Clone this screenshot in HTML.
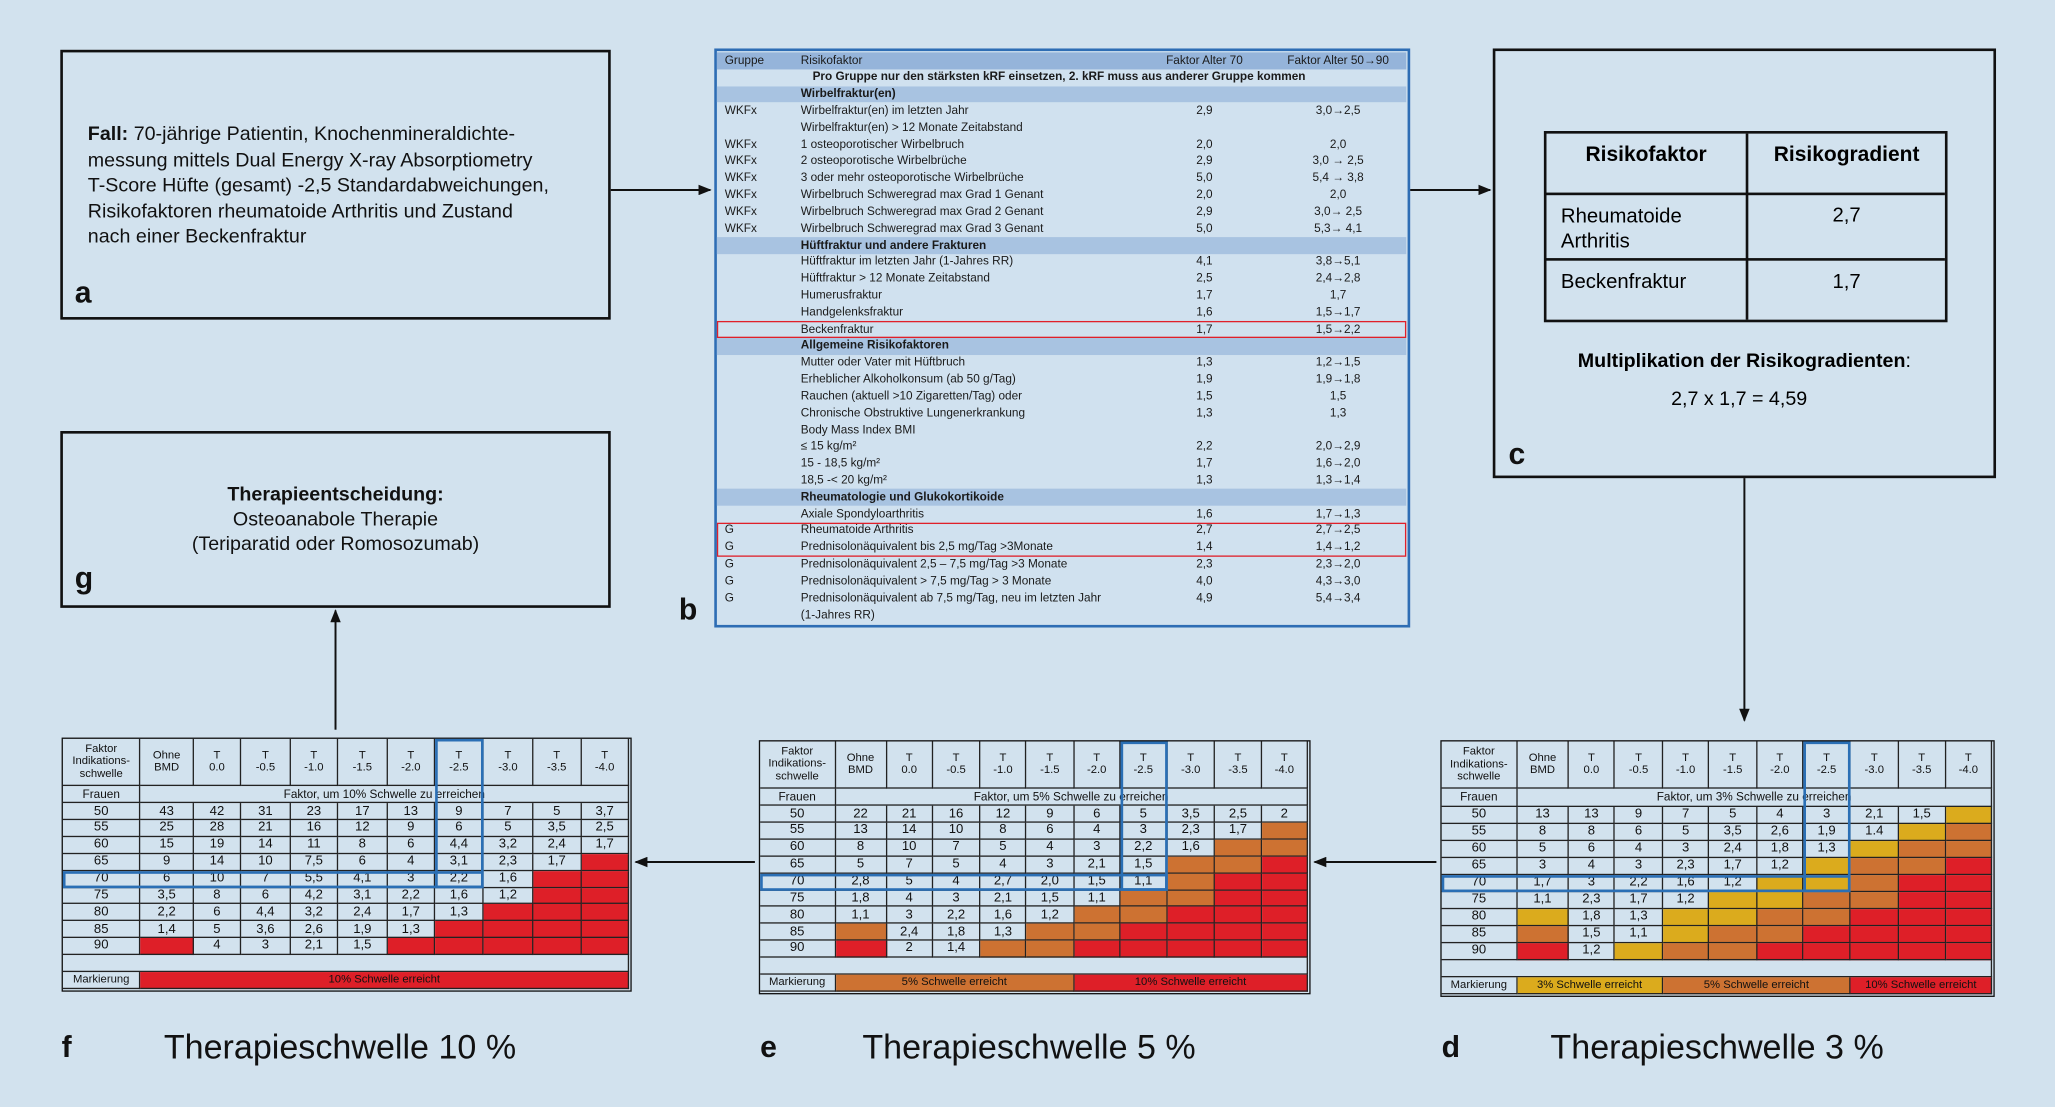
<!DOCTYPE html>
<html><head><meta charset="utf-8">
<style>
html,body{margin:0;padding:0;}
body{width:2055px;height:1107px;overflow:hidden;background:#d2e2ee;font-family:"Liberation Sans",Arial,sans-serif;}
#wrap{position:absolute;left:0;top:0;width:1568px;height:845px;transform:scale(1.31059,1.31006);transform-origin:0 0;}
.box{position:absolute;border:2px solid #111;box-sizing:border-box;}
.abs{position:absolute;}
.lbl{position:absolute;font-weight:bold;font-size:23px;color:#111;}
.cell{position:absolute;box-sizing:border-box;border-right:0.8px solid #222;border-bottom:0.8px solid #222;display:flex;align-items:center;justify-content:center;text-align:center;color:#111;line-height:1.12;}
.btxt{position:absolute;font-size:9px;white-space:nowrap;color:#1a1a1a;}
.cap{position:absolute;font-size:26px;color:#111;}
</style></head><body>
<div id="wrap">

<div class="box" style="left:46px;top:38px;width:420px;height:206px;">
  <div class="abs" style="left:19px;top:53px;font-size:15px;line-height:19.5px;color:#111;"><b>Fall:</b> 70-jährige Patientin, Knochenmineraldichte-<br>messung mittels Dual Energy X-ray Absorptiometry<br>T-Score Hüfte (gesamt) -2,5 Standardabweichungen,<br>Risikofaktoren rheumatoide Arthritis und Zustand<br>nach einer Beckenfraktur</div>
  <div class="lbl" style="left:9px;top:170px;">a</div>
</div>

<div class="box" style="left:46px;top:329px;width:420px;height:135px;">
  <div class="abs" style="left:0;width:416px;top:37px;text-align:center;font-size:15px;line-height:19px;color:#111;"><b>Therapieentscheidung:</b><br>Osteoanabole Therapie<br>(Teriparatid oder Romosozumab)</div>
  <div class="lbl" style="left:9px;top:97px;">g</div>
</div>

<div class="box" style="left:1139px;top:37px;width:384px;height:328px;">
  <div class="abs" style="left:37px;top:61px;width:308px;height:146px;border:2px solid #111;box-sizing:border-box;">
    <div class="abs" style="left:152px;top:0;width:2px;height:142px;background:#111;"></div>
    <div class="abs" style="left:0;top:45px;width:304px;height:2px;background:#111;"></div>
    <div class="abs" style="left:0;top:95px;width:304px;height:2px;background:#111;"></div>
    <div class="abs" style="left:0;width:152px;top:8px;text-align:center;font-weight:bold;font-size:16px;">Risikofaktor</div>
    <div class="abs" style="left:154px;width:150px;top:8px;text-align:center;font-weight:bold;font-size:16px;">Risikogradient</div>
    <div class="abs" style="left:11px;top:54px;font-size:15.5px;line-height:19px;">Rheumatoide<br>Arthritis</div>
    <div class="abs" style="left:154px;width:150px;top:54px;text-align:center;font-size:15.5px;">2,7</div>
    <div class="abs" style="left:11px;top:105px;font-size:15.5px;">Beckenfraktur</div>
    <div class="abs" style="left:154px;width:150px;top:105px;text-align:center;font-size:15.5px;">1,7</div>
  </div>
  <div class="abs" style="left:0;width:380px;top:228px;text-align:center;font-size:15px;"><b>Multiplikation der Risikogradienten</b>:</div>
  <div class="abs" style="left:0;width:372px;top:257px;text-align:center;font-size:15px;">2,7 x 1,7 = 4,59</div>
  <div class="lbl" style="left:10px;top:294px;">c</div>
</div>

<div id="tb" class="abs" style="left:545px;top:37px;width:531px;height:442px;border:2.5px solid #2e6db4;box-sizing:border-box;background:#d0e1ef;"></div>
<div class="lbl" style="left:518px;top:452px;">b</div>

<svg class="abs" style="left:0;top:0;" width="1568" height="845">
  <defs><marker id="ah" markerWidth="10" markerHeight="8" refX="9" refY="4" orient="auto" markerUnits="userSpaceOnUse"><path d="M0,0 L10,4 L0,8 z" fill="#111"/></marker></defs>
  <line x1="466" y1="145" x2="542" y2="145" stroke="#111" stroke-width="1.5" marker-end="url(#ah)"/>
  <line x1="1076" y1="145" x2="1137" y2="145" stroke="#111" stroke-width="1.5" marker-end="url(#ah)"/>
  <line x1="1331" y1="365" x2="1331" y2="550" stroke="#111" stroke-width="1.5" marker-end="url(#ah)"/>
  <line x1="1096" y1="658" x2="1003" y2="658" stroke="#111" stroke-width="1.5" marker-end="url(#ah)"/>
  <line x1="576" y1="658" x2="485" y2="658" stroke="#111" stroke-width="1.5" marker-end="url(#ah)"/>
  <line x1="256" y1="557" x2="256" y2="466" stroke="#111" stroke-width="1.5" marker-end="url(#ah)"/>
</svg>

<div id="tf"></div>
<div id="te"></div>
<div id="td"></div>

<div class="lbl" style="left:47px;top:786px;">f</div>
<div class="cap" style="left:125px;top:784px;">Therapieschwelle 10 %</div>
<div class="lbl" style="left:580px;top:786px;">e</div>
<div class="cap" style="left:658px;top:784px;">Therapieschwelle 5 %</div>
<div class="lbl" style="left:1100px;top:786px;">d</div>
<div class="cap" style="left:1183px;top:784px;">Therapieschwelle 3 %</div>
</div>

<script>
const ages = ["50","55","60","65","70","75","80","85","90"];
const tHeaders = ["0.0","-0.5","-1.0","-1.5","-2.0","-2.5","-3.0","-3.5","-4.0"];
const vals10 = [
 ["43","42","31","23","17","13","9","7","5","3,7"],
 ["25","28","21","16","12","9","6","5","3,5","2,5"],
 ["15","19","14","11","8","6","4,4","3,2","2,4","1,7"],
 ["9","14","10","7,5","6","4","3,1","2,3","1,7","R"],
 ["6","10","7","5,5","4,1","3","2,2","1,6","R","R"],
 ["3,5","8","6","4,2","3,1","2,2","1,6","1,2","R","R"],
 ["2,2","6","4,4","3,2","2,4","1,7","1,3","R","R","R"],
 ["1,4","5","3,6","2,6","1,9","1,3","R","R","R","R"],
 ["R","4","3","2,1","1,5","R","R","R","R","R"]];
const vals5 = [
 ["22","21","16","12","9","6","5","3,5","2,5","2"],
 ["13","14","10","8","6","4","3","2,3","1,7","O"],
 ["8","10","7","5","4","3","2,2","1,6","O","O"],
 ["5","7","5","4","3","2,1","1,5","O","O","R"],
 ["2,8","5","4","2,7","2,0","1,5","1,1","O","R","R"],
 ["1,8","4","3","2,1","1,5","1,1","O","O","R","R"],
 ["1,1","3","2,2","1,6","1,2","O","O","R","R","R"],
 ["O","2,4","1,8","1,3","O","O","R","R","R","R"],
 ["R","2","1,4","O","O","R","R","R","R","R"]];
const vals3 = [
 ["13","13","9","7","5","4","3","2,1","1,5","Y"],
 ["8","8","6","5","3,5","2,6","1,9","1.4","Y","O"],
 ["5","6","4","3","2,4","1,8","1,3","Y","O","O"],
 ["3","4","3","2,3","1,7","1,2","Y","O","O","R"],
 ["1,7","3","2,2","1,6","1,2","Y","Y","O","R","R"],
 ["1,1","2,3","1,7","1,2","Y","Y","O","O","R","R"],
 ["Y","1,8","1,3","Y","Y","O","O","R","R","R"],
 ["O","1,5","1,1","Y","O","O","R","R","R","R"],
 ["R","1,2","Y","O","O","R","R","R","R","R"]];
const legend10 = [["R",1,10,"10% Schwelle erreicht"]];
const legend5 = [["O",1,5,"5% Schwelle erreicht"],["R",6,10,"10% Schwelle erreicht"]];
const legend3 = [["Y",1,3,"3% Schwelle erreicht"],["O",4,7,"5% Schwelle erreicht"],["R",8,10,"10% Schwelle erreicht"]];

const COL = {Y:"#dbab1d",O:"#cd7232",R:"#de1f28"};
const CW=[213,145,130,135,130,135,130,133,135,132,130];
const RH=[141,54,51,51,51,51,51,51,51,51,51,53,50];

function buildTable(host, box, vals, subtitle, legend){
  const el=document.getElementById(host);
  el.style.cssText=`position:absolute;left:${box[0]}px;top:${box[1]}px;width:${box[2]}px;height:${box[3]}px;border:1.5px solid #111;box-sizing:border-box;background:#d2e2ee;`;
  const W=box[2]-3,H=box[3]-3;
  const sw=CW.reduce((a,b)=>a+b,0), sh=RH.reduce((a,b)=>a+b,0);
  const xs=[0],ys=[0];
  CW.forEach(c=>xs.push(xs[xs.length-1]+c*W/sw));
  RH.forEach(r=>ys.push(ys[ys.length-1]+r*H/sh));
  function cell(c0,c1,r,txt,bg,fs){
    const d=document.createElement('div');
    d.className='cell';
    d.style.left=xs[c0]+'px';d.style.top=ys[r]+'px';
    d.style.width=(xs[c1+1]-xs[c0])+'px';d.style.height=(ys[r+1]-ys[r])+'px';
    d.style.fontSize=(fs||9.5)+'px';
    if(bg)d.style.background=bg;
    d.innerHTML=txt;
    el.appendChild(d);return d;
  }
  let d=cell(0,0,0,"Faktor<br>Indikations-<br>schwelle",null,8.6);
  
  
  d=cell(1,1,0,"Ohne<br>BMD",null,8.6);
  
  
  tHeaders.forEach((t,i)=>{
    const c=cell(i+2,i+2,0,"T<br>"+t,null,8.6);
    
    
  });
  d=cell(0,0,1,"Frauen",null,9);
  
  
  d=cell(1,10,1,subtitle,null,9);
  
  
  vals.forEach((row,ri)=>{
    const a=cell(0,0,ri+2,ages[ri],null,10);
    
    
    row.forEach((v,ci)=>{
      const isC=COL[v]!==undefined;
      const c=cell(ci+1,ci+1,ri+2,isC?"":v,isC?COL[v]:null,10);
      
      
    });
  });
  d=cell(0,10,11,"",null,9);
  
  
  d=cell(0,0,12,"Markierung",null,8.6);
  
  
  legend.forEach(s=>{
    const c=cell(s[1],s[2],12,s[3],COL[s[0]],8.6);
    
    
  });
  const hr=document.createElement('div');
  hr.style.cssText=`position:absolute;left:${xs[0]}px;top:${ys[6]}px;width:${xs[8]-xs[0]}px;height:${ys[7]-ys[6]}px;border:2px solid #2a6fb5;box-sizing:border-box;`;
  
  
  el.appendChild(hr);
  const hc=document.createElement('div');
  hc.style.cssText=`position:absolute;left:${xs[7]}px;top:0;width:${xs[8]-xs[7]}px;height:${ys[7]}px;border:2px solid #2a6fb5;box-sizing:border-box;`;
  
  
  el.appendChild(hc);
}
buildTable('tf',[47,563,435,194],vals10,"Faktor, um 10% Schwelle zu erreichen",legend10);
buildTable('te',[579,565,421,194],vals5,"Faktor, um 5% Schwelle zu erreichen",legend5);
buildTable('td',[1099,565,423,196],vals3,"Faktor, um 3% Schwelle zu erreichen",legend3);

const bRows = [
 ["H","Gruppe","Risikofaktor","Faktor Alter 70","Faktor Alter 50→90"],
 ["P","","Pro Gruppe nur den stärksten kRF einsetzen, 2. kRF muss aus anderer Gruppe kommen","",""],
 ["S","","Wirbelfraktur(en)","",""],
 ["","WKFx","Wirbelfraktur(en) im letzten Jahr","2,9","3,0→2,5"],
 ["","","Wirbelfraktur(en) > 12 Monate Zeitabstand","",""],
 ["","WKFx","1 osteoporotischer Wirbelbruch","2,0","2,0"],
 ["","WKFx","2 osteoporotische Wirbelbrüche","2,9","3,0 → 2,5"],
 ["","WKFx","3 oder mehr osteoporotische Wirbelbrüche","5,0","5,4 → 3,8"],
 ["","WKFx","Wirbelbruch Schweregrad max Grad 1 Genant","2,0","2,0"],
 ["","WKFx","Wirbelbruch Schweregrad max Grad 2 Genant","2,9","3,0→ 2,5"],
 ["","WKFx","Wirbelbruch Schweregrad max Grad 3 Genant","5,0","5,3→ 4,1"],
 ["S","","Hüftfraktur und andere Frakturen","",""],
 ["","","Hüftfraktur im letzten Jahr (1-Jahres RR)","4,1","3,8→5,1"],
 ["","","Hüftfraktur > 12 Monate Zeitabstand","2,5","2,4→2,8"],
 ["","","Humerusfraktur","1,7","1,7"],
 ["","","Handgelenksfraktur","1,6","1,5→1,7"],
 ["","","Beckenfraktur","1,7","1,5→2,2"],
 ["S","","Allgemeine Risikofaktoren","",""],
 ["","","Mutter oder Vater mit Hüftbruch","1,3","1,2→1,5"],
 ["","","Erheblicher Alkoholkonsum (ab 50 g/Tag)","1,9","1,9→1,8"],
 ["","","Rauchen (aktuell >10 Zigaretten/Tag) oder","1,5","1,5"],
 ["","","Chronische Obstruktive Lungenerkrankung","1,3","1,3"],
 ["","","Body Mass Index BMI","",""],
 ["","","≤ 15 kg/m²","2,2","2,0→2,9"],
 ["","","15 - 18,5 kg/m²","1,7","1,6→2,0"],
 ["","","18,5 -< 20 kg/m²","1,3","1,3→1,4"],
 ["S","","Rheumatologie und Glukokortikoide","",""],
 ["","","Axiale Spondyloarthritis","1,6","1,7→1,3"],
 ["","G","Rheumatoide Arthritis","2,7","2,7→2,5"],
 ["","G","Prednisolonäquivalent bis 2,5 mg/Tag >3Monate","1,4","1,4→1,2"],
 ["","G","Prednisolonäquivalent 2,5 – 7,5 mg/Tag >3 Monate","2,3","2,3→2,0"],
 ["","G","Prednisolonäquivalent > 7,5 mg/Tag > 3 Monate","4,0","4,3→3,0"],
 ["","G","Prednisolonäquivalent ab 7,5 mg/Tag, neu im letzten Jahr","4,9","5,4→3,4"],
 ["","","(1-Jahres RR)","",""]];
(function(){
  const tb=document.getElementById('tb');
  const rh=12.82, top=1;
  bRows.forEach((r,i)=>{
    const row=document.createElement('div');
    row.style.cssText=`position:absolute;left:0;top:${top+i*rh}px;width:526px;height:${rh}px;`;
    if(r[0]==="H")row.style.background="#95b4da";
    if(r[0]==="S")row.style.background="#a8c3e1";
    
    
    const bold=(r[0]==="S"||r[0]==="P");
    function t(x,txt,center){
      const s=document.createElement('div');
      s.className='btxt';
      s.style.top='0.5px';
      if(center){s.style.left=(x-40)+'px';s.style.width='80px';s.style.textAlign='center';}
      else s.style.left=x+'px';
      if(bold)s.style.fontWeight='bold';
      s.innerHTML=txt.replace(/→/g,'<b>→</b>');
      row.appendChild(s);
    }
    if(r[0]==="P"){t(73,r[2]);}
    else{
      if(r[1])t(6,r[1]);
      t(64,r[2]);
      if(r[3])t(372,r[3],true);
      if(r[4])t(474,r[4],true);
    }
    tb.appendChild(row);
  });
  function box(y0,n){
    const b=document.createElement('div');
    b.style.cssText=`position:absolute;left:0;top:${top+y0*rh}px;width:526px;height:${n*rh}px;border:1.5px solid #e0202a;box-sizing:border-box;`;
    
    
    tb.appendChild(b);
  }
  box(16,1);box(28,2);
})();
</script>
</body></html>
